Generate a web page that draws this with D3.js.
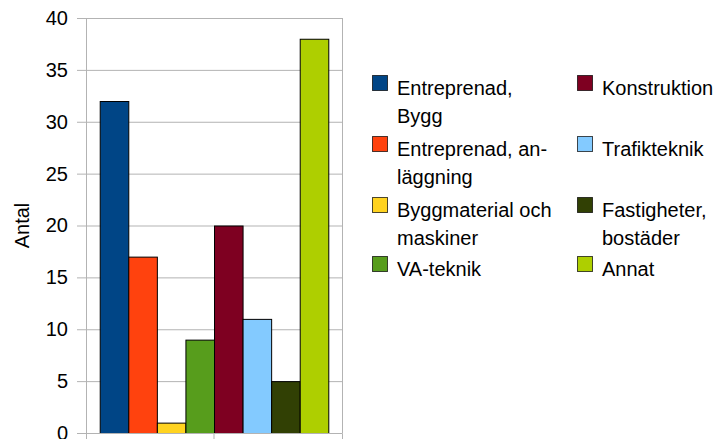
<!DOCTYPE html>
<html>
<head>
<meta charset="utf-8">
<script src="https://cdn.jsdelivr.net/npm/d3@7"></script>
<style>
  body { margin: 0; background: #fff; }
  svg { display: block; font-family: "Liberation Sans", Arial, sans-serif; }
</style>
</head>
<body>
<div id="chart"></div>
<script>
const width = 722;
const height = 439;
const margin = {top: 18, right: 380, bottom: 6, left: 86};

const series = ["Entreprenad, Bygg", "Entreprenad, anläggning", "Byggmaterial och maskiner", "VA-teknik",
    "Konstruktion", "Trafikteknik", "Fastigheter, bostäder", "Annat"];
const values = [32, 17, 1, 9, 20, 11, 5, 38];
const colors = ["#004586", "#ff420e", "#ffd320", "#579d1c", "#7e0021", "#83caff", "#314004", "#aecf00"];
const legendLines = [["Entreprenad,", "Bygg"], ["Entreprenad, an-", "läggning"], ["Byggmaterial och", "maskiner"],
    ["VA-teknik"], ["Konstruktion"], ["Trafikteknik"], ["Fastigheter,", "bostäder"], ["Annat"]];
const yTicks = [0, 5, 10, 15, 20, 25, 30, 35, 40];

const plotRight = width - margin.right;        // 342
const plotBottom = height - margin.bottom;     // 433

const svg = d3.create("svg")
    .attr("width", width)
    .attr("height", height);

const x0 = d3.scaleBand()
    .domain(["all"])
    .range([margin.left, plotRight]);

const x1 = d3.scaleBand()
    .domain(series)
    .range([0, x0.bandwidth()])
    .paddingInner(0)
    .paddingOuter(0.48);

const y = d3.scaleLinear()
    .domain([0, 40])
    .range([plotBottom, margin.top]);

// grid
svg.append("g")
    .selectAll("line")
    .data(yTicks)
    .join("line")
    .attr("x1", margin.left)
    .attr("x2", plotRight)
    .attr("y1", d => y(d) + 0.5)
    .attr("y2", d => y(d) + 0.5)
    .attr("stroke", "#b3b3b3");

// plot frame sides
svg.append("line")
    .attr("x1", margin.left + 0.5).attr("x2", margin.left + 0.5)
    .attr("y1", margin.top).attr("y2", plotBottom)
    .attr("stroke", "#b3b3b3");
svg.append("line")
    .attr("x1", plotRight + 0.5).attr("x2", plotRight + 0.5)
    .attr("y1", margin.top).attr("y2", plotBottom)
    .attr("stroke", "#b3b3b3");

// bars
svg.append("g")
    .selectAll("rect")
    .data(values)
    .join("rect")
    .attr("x", (d, i) => x0("all") + x1(series[i]) + 0.5)
    .attr("y", d => y(d) + 0.5)
    .attr("width", x1.bandwidth())
    .attr("height", d => y(0) - y(d))
    .attr("fill", (d, i) => colors[i])
    .attr("stroke", "#000")
    .attr("stroke-width", 1);

// y axis
const yAxis = svg.append("g")
    .attr("transform", `translate(${margin.left},0)`)
    .call(d3.axisLeft(y).tickValues(yTicks).tickSize(9).tickPadding(9));
yAxis.select(".domain").remove();
yAxis.selectAll(".tick line").attr("stroke", "#b3b3b3");
yAxis.selectAll("text")
    .attr("fill", "#000")
    .attr("font-size", "20px")
    .attr("font-family", "Liberation Sans, Arial, sans-serif");

// x axis
const xAxis = svg.append("g")
    .attr("transform", `translate(0,${plotBottom})`)
    .call(d3.axisBottom(x0).tickSize(6).tickFormat(""));
xAxis.select(".domain").attr("stroke", "#b3b3b3");
xAxis.selectAll(".tick line").attr("stroke", "#b3b3b3");

svg.append("text")
    .attr("transform", `translate(29,${(margin.top + plotBottom) / 2}) rotate(-90)`)
    .attr("text-anchor", "middle")
    .attr("font-size", "20px")
    .attr("fill", "#000")
    .text("Antal");

// legend
const legendCols = [372, 577];
const legendRows = [75, 136, 197, 256];
const legend = svg.append("g")
    .selectAll("g")
    .data(series)
    .join("g")
    .attr("transform", (d, i) => `translate(${legendCols[Math.floor(i / 4)]},${legendRows[i % 4]})`);

legend.append("rect")
    .attr("x", 0.5).attr("y", 0.5)
    .attr("width", 15).attr("height", 15)
    .attr("fill", (d, i) => colors[i])
    .attr("stroke", "#000")
    .attr("stroke-opacity", 0.7);

legend.append("text")
    .attr("x", 25)
    .attr("y", 20)
    .attr("font-size", "20px")
    .attr("fill", "#000")
    .selectAll("tspan")
    .data((d, i) => legendLines[i])
    .join("tspan")
    .attr("x", 25)
    .attr("dy", (d, j) => j === 0 ? 0 : 28)
    .text(d => d);

d3.select("#chart").append(() => svg.node());
</script>
</body>
</html>
